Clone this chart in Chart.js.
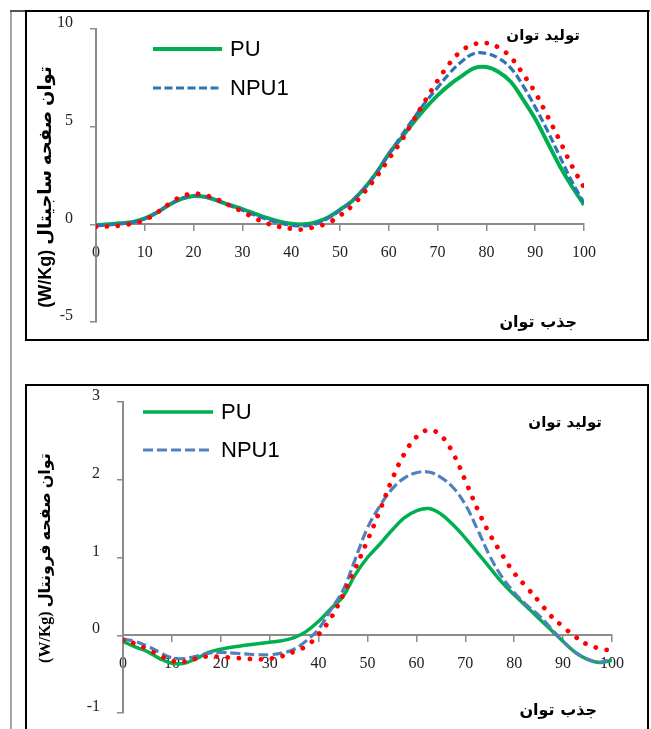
<!DOCTYPE html>
<html>
<head>
<meta charset="utf-8">
<script src="https://cdn.jsdelivr.net/npm/chart.js@4.4.1/dist/chart.umd.min.js"></script>
<style>
  html, body { margin: 0; padding: 0; background: #fff; }
  body { width: 651px; height: 729px; position: relative; overflow: hidden; }
  .vline { position: absolute; left: 10px; top: 10px; width: 0; height: 740px; border-left: 2px solid #a6a6a6; }
  .topline { position: absolute; left: 10px; top: 10px; width: 640px; height: 0; border-top: 2px solid #555; }
  .box { position: absolute; left: 25px; width: 624px; border: 2px solid #000; box-sizing: border-box; }
  #box1 { top: 10px; height: 331px; }
  #box2 { top: 384px; height: 400px; }
  canvas { position: absolute; }
  .note { position: absolute; font-family: "DejaVu Sans", sans-serif; font-weight: bold; font-size: 16px;
          line-height: 20px; direction: rtl; white-space: nowrap; color: #000; }
  .ytitle { position: absolute; height: 24px; line-height: 24px; text-align: center; transform: rotate(-90deg);
            font-weight: bold; direction: rtl; white-space: nowrap; color: #000; }
</style>
</head>
<body>
<div class="vline"></div>
<div class="topline"></div>
<div class="box" id="box1"></div>
<div class="box" id="box2"></div>

<canvas id="sagittal" width="620" height="326" style="left:27px; top:12px; width:620px; height:326px;"></canvas>
<canvas id="frontal" width="620" height="342" style="left:27px; top:387px; width:620px; height:342px;"></canvas>

<div class="ytitle" style="font-family:'Liberation Sans','DejaVu Sans',sans-serif; font-size:18px; width:280px; left:-95px; top:175px;">توان صفحه ساجیتال (W/Kg)</div>
<div class="ytitle" style="font-family:'Liberation Serif','DejaVu Sans',serif; font-size:16px; width:240px; left:-75px; top:546px;">توان صفحه فرونتال (W/Kg)</div>

<div class="note" style="right:71px; top:25px; font-size:15px;">تولید توان</div>
<div class="note" style="right:74px; top:312px;">جذب توان</div>
<div class="note" style="right:49px; top:412px; font-size:15px;">تولید توان</div>
<div class="note" style="right:54px; top:700px;">جذب توان</div>

<script>
// Data
const seriesNames = ['PU', 'NPU1', 'NPU2'];
const xs = [0, 2.5, 5, 7.5, 10, 12.5, 15, 17.5, 20, 22.5, 25, 27.5, 30, 32.5, 35, 37.5, 40,
            42.5, 45, 47.5, 50, 52.5, 55, 57.5, 60, 62.5, 65, 67.5, 70, 72.5, 75, 77.5, 80,
            82.5, 85, 87.5, 90, 92.5, 95, 97.5, 100];

// sagittal plane power
const sagPU = [-0.05, 0.0, 0.05, 0.12, 0.3, 0.6, 1.0, 1.3, 1.45, 1.4, 1.2, 0.98, 0.78, 0.55, 0.33, 0.15, 0.03,
               0.0, 0.1, 0.35, 0.75, 1.2, 1.85, 2.65, 3.6, 4.4, 5.2, 5.95, 6.6, 7.15, 7.6, 8.0, 8.05,
               7.8, 7.3, 6.4, 5.4, 4.2, 3.0, 1.95, 1.0];
const sagNPU1 = [-0.08, -0.02, 0.03, 0.1, 0.28, 0.6, 1.0, 1.32, 1.47, 1.42, 1.2, 0.95, 0.72, 0.48, 0.26, 0.08, -0.05,
                 -0.08, 0.02, 0.3, 0.72, 1.2, 1.85, 2.65, 3.6, 4.5, 5.4, 6.25, 7.0, 7.75, 8.35, 8.75, 8.75,
                 8.5, 8.0, 7.1, 6.0, 4.8, 3.5, 2.2, 1.1];
const sagNPU2 = [-0.12, -0.1, -0.06, 0.05, 0.22, 0.6, 1.05, 1.42, 1.57, 1.48, 1.26, 0.95, 0.65, 0.32, 0.05, -0.12, -0.22,
                 -0.26, -0.12, 0.06, 0.45, 0.95, 1.65, 2.45, 3.35, 4.25, 5.3, 6.35, 7.35, 8.25, 8.9, 9.22, 9.28,
                 9.05, 8.55, 7.7, 6.75, 5.55, 4.3, 3.0, 1.9];

// frontal plane power
const froPU = [-0.08, -0.15, -0.21, -0.3, -0.36, -0.36, -0.3, -0.22, -0.18, -0.15, -0.13, -0.11, -0.09, -0.07, -0.03, 0.05, 0.18,
               0.34, 0.5, 0.78, 1.0, 1.17, 1.35, 1.51, 1.6, 1.63, 1.56, 1.42, 1.25, 1.06, 0.87, 0.68, 0.52,
               0.37, 0.22, 0.07, -0.08, -0.22, -0.31, -0.35, -0.32];
const froNPU1 = [-0.05, -0.08, -0.14, -0.22, -0.29, -0.3, -0.27, -0.23, -0.22, -0.23, -0.24, -0.25, -0.25, -0.23, -0.18, -0.07, 0.08,
                 0.33, 0.58, 0.98, 1.38, 1.66, 1.88, 2.02, 2.09, 2.1, 2.03, 1.9, 1.68, 1.36, 1.02, 0.75, 0.55,
                 0.39, 0.26, 0.09, -0.08, -0.22, -0.31, -0.35, -0.3];
const froNPU2 = [-0.06, -0.11, -0.18, -0.26, -0.33, -0.34, -0.3, -0.27, -0.28, -0.29, -0.3, -0.31, -0.3, -0.27, -0.21, -0.14, 0.01,
                 0.22, 0.52, 0.86, 1.22, 1.6, 2.0, 2.33, 2.55, 2.64, 2.57, 2.34, 1.99, 1.62, 1.3, 1.04, 0.8,
                 0.62, 0.44, 0.25, 0.11, -0.02, -0.12, -0.17, -0.2];

const sagTicks = { min: -5, max: 10, step: 5 };
const froTicks = { min: -1, max: 3, step: 1 };

const green = '#00B050';
const red = '#FF0000';
const axisGray = '#8C8C8C';

// Legend drawn inside the plot: only PU and NPU1 are keyed
const lineKey = {
    id: 'lineKey',
    afterDraw(chart, args, opts) {
        const ctx = chart.ctx;
        let y = opts.top;
        chart.data.datasets.forEach(ds => {
            if (ds.noKey) return;
            ctx.save();
            ctx.strokeStyle = ds.borderColor;
            ctx.lineWidth = ds.borderWidth;
            ctx.setLineDash(ds.borderDash || []);
            ctx.beginPath();
            ctx.moveTo(opts.left, y);
            ctx.lineTo(opts.left + opts.length, y);
            ctx.stroke();
            ctx.restore();

            ctx.save();
            ctx.fillStyle = '#000';
            ctx.font = opts.font;
            ctx.textBaseline = 'middle';
            ctx.fillText(ds.label, opts.left + opts.length + opts.gap, y + 1);
            ctx.restore();
            y += opts.step;
        });
    }
};

function buildChart(id, cfg) {
    const ctx = document.getElementById(id);
    return new Chart(ctx, {
        type: 'line',
        data: {
            labels: xs,
            datasets: [
                {
                    label: seriesNames[0], data: cfg.pu, borderColor: green,
                    borderWidth: cfg.greenWidth, order: 3
                },
                {
                    label: seriesNames[1], data: cfg.npu1, borderColor: cfg.blue,
                    borderWidth: 3.2, borderDash: cfg.blueDash, order: 2
                },
                {
                    label: seriesNames[2], data: cfg.npu2, borderColor: red, noKey: true,
                    borderWidth: 4.8, borderDash: [0.001, 11], borderCapStyle: 'round', order: 1
                }
            ]
        },
        plugins: [lineKey],
        options: {
            responsive: false,
            animation: false,
            layout: { padding: cfg.pad },
            elements: {
                point: { radius: 0 },
                line: { tension: 0.4, fill: false }
            },
            plugins: {
                legend: { display: false },
                tooltip: { enabled: false },
                lineKey: cfg.key
            },
            scales: {
                x: {
                    type: 'linear',
                    min: 0,
                    max: 100,
                    position: { y: 0 },
                    afterFit: s => { s.height = 0; },
                    border: { color: axisGray, width: 2 },
                    grid: { drawOnChartArea: false, drawTicks: true, tickLength: 6, color: axisGray, lineWidth: 1.5 },
                    ticks: {
                        stepSize: 10, padding: 13, color: '#222', maxRotation: 0,
                        font: { family: 'Liberation Serif', size: 16 }
                    }
                },
                y: {
                    min: cfg.ticks.min,
                    max: cfg.ticks.max,
                    // fixed axis width; no extra label padding above/below the plot
                    afterFit: s => { s.width = cfg.yWidth; s.paddingTop = 0; s.paddingBottom = 0; },
                    border: { color: axisGray, width: 2 },
                    grid: { drawOnChartArea: false, drawTicks: true, tickLength: 6, color: axisGray, lineWidth: 1.5 },
                    ticks: {
                        stepSize: cfg.ticks.step, padding: 17, labelOffset: -6, color: '#222',
                        font: { family: 'Liberation Serif', size: 16 }
                    }
                }
            }
        }
    });
}

buildChart('sagittal', {
    pu: sagPU, npu1: sagNPU1, npu2: sagNPU2, ticks: sagTicks,
    blue: '#2E75B6', blueDash: [8, 3.5], greenWidth: 4,
    pad: { left: 0, right: 63, top: 17, bottom: 16 },
    yWidth: 69,
    key: { left: 126, top: 37, step: 39, length: 69, gap: 8, font: '22px "Liberation Sans"' }
});

buildChart('frontal', {
    pu: froPU, npu1: froNPU1, npu2: froNPU2, ticks: froTicks,
    blue: '#4F81BD', blueDash: [10, 4], greenWidth: 3.5,
    pad: { left: 0, right: 35, top: 15, bottom: 16 },
    yWidth: 96,
    key: { left: 116, top: 25, step: 38, length: 70, gap: 8, font: '22px "Liberation Sans"' }
});
</script>
</body>
</html>
